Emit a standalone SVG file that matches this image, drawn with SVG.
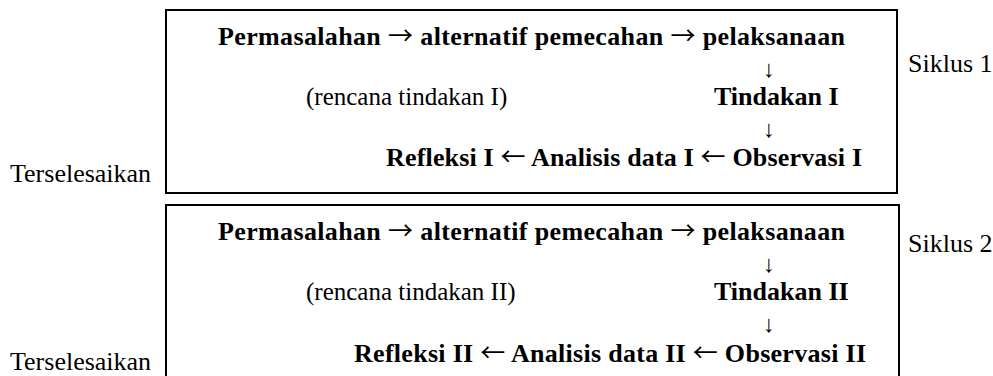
<svg xmlns="http://www.w3.org/2000/svg" width="993" height="376" viewBox="0 0 993 376">
<style>
text{font-family:"Liberation Serif","Times New Roman",serif;font-size:26px;fill:#000}
.b{font-weight:bold}
.ar{font-family:"Noto Sans CJK SC","Liberation Serif",sans-serif;font-weight:normal;font-size:25px}
.dn{font-family:"Liberation Serif",serif;font-weight:normal;font-size:24px}
.p{font-size:25px}
.box{fill:none;stroke:#000;stroke-width:2}
</style>
<rect width="993" height="376" fill="#fff"/>
<g id="connectors"></g>
<g id="cycle1">
<rect class="box" x="166" y="10" width="731" height="183"/>
<text class="b" x="218" y="45" textLength="627" lengthAdjust="spacing">Permasalahan <tspan class="ar">→</tspan> alternatif pemecahan <tspan class="ar">→</tspan> pelaksanaan</text>
<text class="dn" x="769" y="77" text-anchor="middle">↓</text>
<text class="p" x="306" y="105">(rencana tindakan I)</text>
<text class="b" x="714" y="105">Tindakan I</text>
<text class="dn" x="769" y="137" text-anchor="middle">↓</text>
<text class="b" x="386" y="166" textLength="476" lengthAdjust="spacing">Refleksi I <tspan class="ar">←</tspan> Analisis data I <tspan class="ar">←</tspan> Observasi I</text>
<text x="908" y="72">Siklus 1</text>
<text x="10" y="182">Terselesaikan</text>
</g>
<g id="cycle2">
<rect class="box" x="166" y="205" width="733" height="190"/>
<text class="b" x="218" y="240" textLength="627" lengthAdjust="spacing">Permasalahan <tspan class="ar">→</tspan> alternatif pemecahan <tspan class="ar">→</tspan> pelaksanaan</text>
<text class="dn" x="769" y="272" text-anchor="middle">↓</text>
<text class="p" x="306" y="300">(rencana tindakan II)</text>
<text class="b" x="714" y="300">Tindakan II</text>
<text class="dn" x="769" y="332" text-anchor="middle">↓</text>
<text class="b" x="354" y="362" textLength="512" lengthAdjust="spacing">Refleksi II <tspan class="ar">←</tspan> Analisis data II <tspan class="ar">←</tspan> Observasi II</text>
<text x="908" y="252">Siklus 2</text>
<text x="10" y="370">Terselesaikan</text>
</g>
</svg>
